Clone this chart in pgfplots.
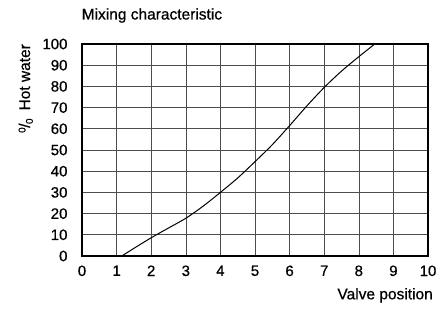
\documentclass[border=0pt]{standalone}
\usepackage{fontspec}
\setmainfont{Liberation Sans}
\newfontfamily\heavy{Liberation Sans}[FakeBold=0.6]
\usepackage{pgfplots}
\pgfplotsset{compat=1.18}
\begin{document}
\begin{tikzpicture}[x=1pt,y=1pt]
\useasboundingbox (0,0) rectangle (437,313);
\begin{axis}[
  at={(82pt,57pt)}, anchor=south west,
  scale only axis, width=346pt, height=212pt,
  xmin=0, xmax=10, ymin=0, ymax=100,
  xtick={0,1,...,10}, ytick={0,10,...,100},
  grid=major,
  major grid style={line width=0.6pt, black!70},
  axis line style={line width=1.1pt, black},
  major tick length=0pt,
  /pgf/number format/assume math mode=true,
  tick label style={font=\heavy\fontsize{15}{16}\selectfont},
  xticklabel style={yshift=-6pt},
  yticklabel style={xshift=-11pt},
  clip=true,
]
\addplot[black, line width=1pt, smooth, tension=0.5] coordinates {
(1.15,0) (1.5,3.6) (2,8.6) (2.5,13.2) (3,17.8) (3.5,23.5) (4,30) (4.5,36.8) (5,44.5) (5.5,52.5) (6,61.5) (6.5,70.8) (7,79.5) (7.5,87.2) (8,94) (8.5,100.5)
};
\end{axis}
\node[anchor=base west, inner sep=0pt, font=\heavy\fontsize{15.5}{16}\selectfont] at (81.5,293.5) {Mixing characteristic};
\node[rotate=90, anchor=base, inner sep=0pt, font=\heavy\fontsize{15.5}{16}\selectfont] at (30,224.5) {{\raisebox{0.55ex}{\fontsize{10}{11}\selectfont 0}\kern-0.5pt/\kern-0.5pt\raisebox{-0.35ex}{\fontsize{10}{11}\selectfont 0}}\hspace{8pt}Hot water};
\node[anchor=base east, inner sep=0pt, font=\heavy\fontsize{15.5}{16}\selectfont] at (433,13.7) {Valve position};
\end{tikzpicture}
\end{document}
